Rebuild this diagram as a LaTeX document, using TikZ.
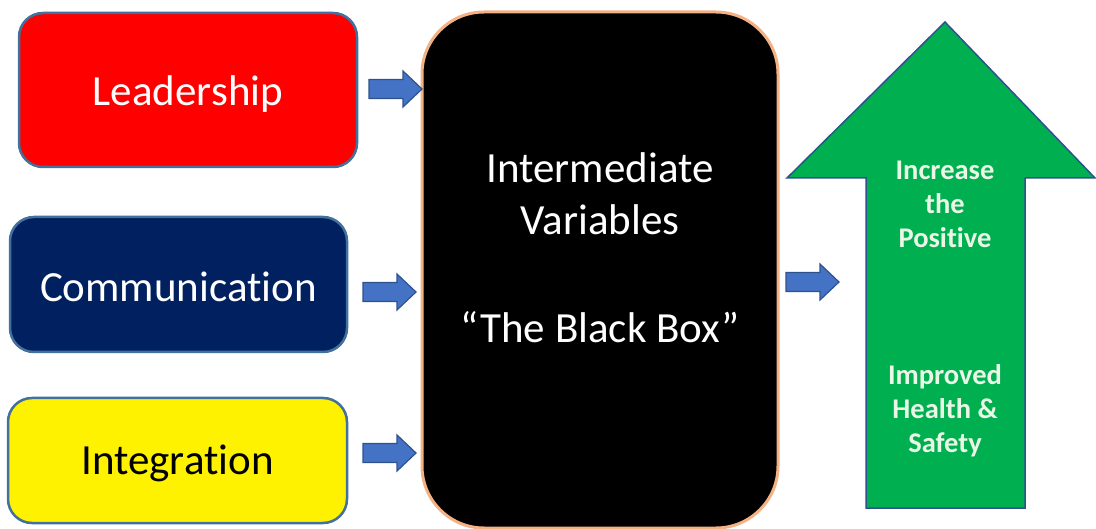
\documentclass[tikz,border=0pt]{standalone}
\usepackage{fontspec}
\setmainfont{Carlito}[Ligatures=NoCommon]
\definecolor{edgeblue}{HTML}{41719C}
\definecolor{arrowblue}{HTML}{4472C4}
\definecolor{arrowedge}{HTML}{2F528F}
\definecolor{navy}{HTML}{002060}
\definecolor{leafgreen}{HTML}{00B050}
\definecolor{paleorange}{HTML}{F4B183}
\definecolor{palegreen}{HTML}{EAF6E6}
\newcommand{\lowered}[2]{\raisebox{-#1}[\height][\depth]{#2}}
\tikzset{
  factor/.style={draw=edgeblue, line width=2.5pt, rounded corners=24pt, inner sep=0pt, font=\fontsize{43}{52}\selectfont},
  blockarrow/.style={fill=arrowblue, draw=arrowedge, line width=1.2pt, line join=miter},
  barrow/.pic={\path[blockarrow] (0,-9.5) -- (34,-9.5) -- (34,-18) -- (53,0) -- (34,18) -- (34,9.5) -- (0,9.5) -- cycle;},
  boxtext/.style={text=white, font=\fontsize{43}{52}\selectfont},
  goaltext/.style={text=palegreen, font=\bfseries\fontsize{28.5}{34}\selectfont, align=center}
}
\begin{document}
\begin{tikzpicture}[x=1pt, y=-1pt]
  \useasboundingbox[fill=white] (0,0) rectangle (1096,529);

  % the three input factors
  \node[factor, fill=red, text=white, minimum width=338pt, minimum height=154pt] (lead) at (188,90) {\lowered{4pt}{Leadership}};
  \node[factor, fill=navy, text=white, minimum width=337pt, minimum height=135pt] (comm) at (178.5,284.5) {\lowered{2pt}{Communication}};
  \node[factor, fill=yellow, text=black, minimum width=339pt, minimum height=125pt] (integ) at (177.5,460.5) {\lowered{3pt}{Integration}};

  % the black box in the middle
  \node[fill=black, draw=paleorange, line width=3pt, rounded corners=62pt, minimum width=356pt, minimum height=516pt, inner sep=0pt] (box) at (600,270) {};
  \node[boxtext] (t1) at (600,168) {Intermediate};
  \node[boxtext] (t2) at (600,220) {Variables};
  \node[boxtext] (t3) at (600,327) {“The Black Box”};

  % block arrows feeding the box and leaving it
  \pic at (369,89) {barrow};
  \pic at (363,292) {barrow};
  \pic at (363,453) {barrow};
  \pic at (786,282) {barrow};

  % the big upward arrow
  \draw[fill=leafgreen, draw=arrowedge, line width=1.5pt, line join=miter]
    (945,22) -- (1095,178) -- (1025,178) -- (1025,508) -- (866,508) -- (866,178) -- (787,178) -- cycle;
  \node[goaltext] (up1) at (945,204) {Increase\\the\\Positive};
  \node[goaltext] (up2) at (945,411) {Improved\\Health \&\\Safety};
\end{tikzpicture}
\end{document}
